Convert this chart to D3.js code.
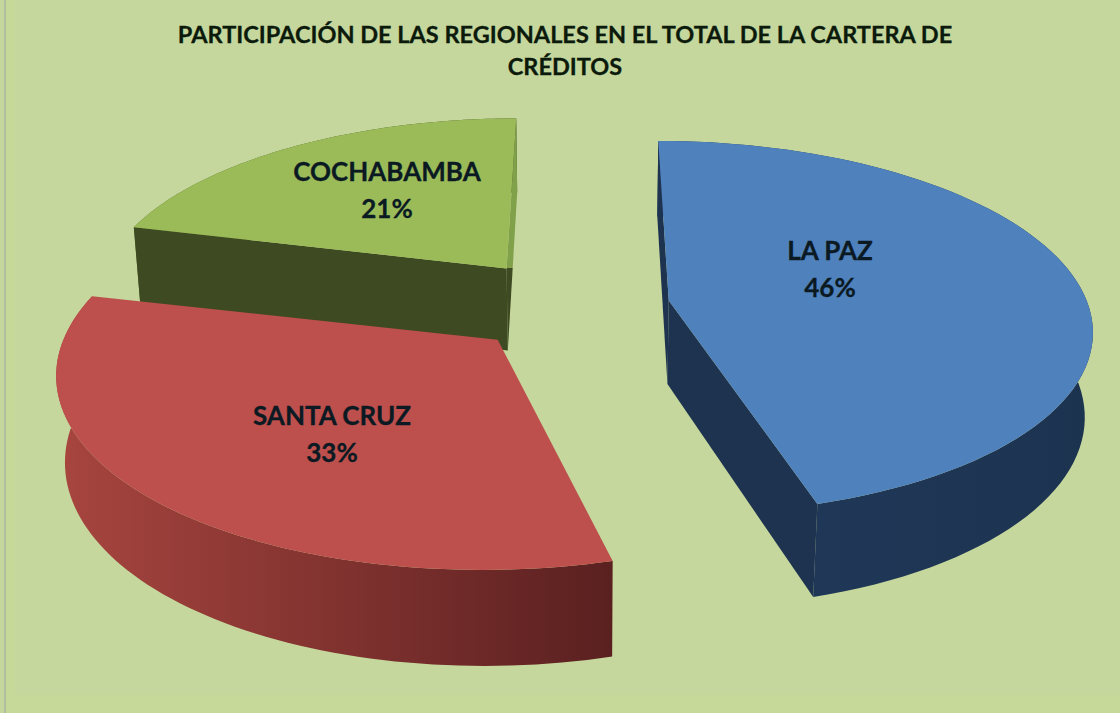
<!DOCTYPE html>
<html><head><meta charset="utf-8">
<script src="https://cdn.jsdelivr.net/npm/d3@7"></script>
<style>html,body{margin:0;padding:0;background:#c5d79c}svg{display:block}</style>
</head><body><svg id="c" width="1120" height="713"></svg>
<script>
const categories = ["LA PAZ","SANTA CRUZ","COCHABAMBA"];
const values = [45.5,33.2,21.3];
const explodeX = [0.198,-0.205,-0.195];
const explodeY = [0.025,-0.184,0.205];
const radiusScale = [1,1.008,0.985];
const startTweak = [0,0.024,0.02];
const topColors = ["#4f81bd","#bd4f4c","#9bbb59"];
const wallLeft = ["#223a5c","#a8453f","#5a6e30"];
const wallRight = ["#1c3350","#5a2020","#3c4a20"];
const radialColors = ["#1e3350","#6e2a28","#3d4a22"];
const backColors = ["#1e3350","#6e2a28","#80a04a"];
const titleLines = ["PARTICIPACIÓN DE LAS REGIONALES EN EL TOTAL DE LA CARTERA DE","CRÉDITOS"];
const labelAt = [[830,251],[332,416],[387,172]];

const W=1120,H=713;
const svg=d3.select("#c");
const cam={cx:586,cy:305,f:2600,D:6.2,e:26*Math.PI/180,h:0.226};
function proj(X,Y,Z){
  const w=cam.D+Y*Math.cos(cam.e)-Z*Math.sin(cam.e);
  return [cam.cx+cam.f*X/w, cam.cy-cam.f*(Y*Math.sin(cam.e)+Z*Math.cos(cam.e))/w];
}
svg.append("rect").attr("width",W).attr("height",H).attr("fill","#c5d79c");
svg.append("rect").attr("x",6).attr("y",0).attr("width",9).attr("height",H).attr("fill","#c7d998");
svg.append("rect").attr("x",6).attr("y",695).attr("width",W).attr("height",18).attr("fill","#c7d998");
svg.append("rect").attr("x",4).attr("y",0).attr("width",2).attr("height",H).attr("fill","#b3bda0");

const pie=d3.pie().sort(null).value(d=>d)(values);
const defs=svg.append("defs");
const line=d3.line();
const order=[2,0,1];
order.forEach(i=>{
  const p=pie[i];
  const ox=explodeX[i],oy=explodeY[i],r=radiusScale[i];
  const n=80;
  const s0=p.startAngle+startTweak[i];
  const arc=d3.range(n+1).map(k=>{
    const a=s0+(p.endAngle-s0)*k/n;
    return [ox+r*Math.sin(a),oy+r*Math.cos(a)];
  });
  const topP=arc.map(q=>proj(q[0],q[1],0));
  const botP=arc.map(q=>proj(q[0],q[1],-cam.h));
  const a0=proj(ox,oy,0),a1=proj(ox,oy,-cam.h);
  const g=svg.append("g");
  const gid="w"+i;
  const xs=topP.concat(botP).map(q=>q[0]);
  const gr=defs.append("linearGradient").attr("id",gid).attr("gradientUnits","userSpaceOnUse")
    .attr("x1",d3.min(xs)).attr("x2",d3.max(xs)).attr("y1",0).attr("y2",0);
  gr.append("stop").attr("offset",0).attr("stop-color",wallLeft[i]);
  gr.append("stop").attr("offset",1).attr("stop-color",wallRight[i]);
  // outer wall
  g.append("path").attr("d",line(topP.concat(botP.slice().reverse()))+"Z").attr("fill",`url(#${gid})`);
  // radial walls: keep only those that face the viewer
  const cross=(A,B,C)=>(B[0]-A[0])*(C[1]-B[1])-(B[1]-A[1])*(C[0]-B[0]);
  if(cross(a0,topP[0],botP[0])<0){
    g.append("path").attr("d",line([a0,topP[0],botP[0],a1])+"Z").attr("fill",radialColors[i]);
  }
  if(cross(a0,topP[n],botP[n])>0){
    const bid="b"+i;
    const bg=defs.append("linearGradient").attr("id",bid).attr("gradientUnits","userSpaceOnUse")
      .attr("x1",0).attr("x2",0).attr("y1",topP[n][1]).attr("y2",a1[1]);
    const off=(a0[1]-topP[n][1])/(a1[1]-topP[n][1]);
    const col=(a0[1]>topP[n][1])?backColors[i]:radialColors[i];
    bg.append("stop").attr("offset",0).attr("stop-color",col);
    bg.append("stop").attr("offset",Math.max(0,Math.min(1,off))).attr("stop-color",col);
    bg.append("stop").attr("offset",Math.max(0,Math.min(1,off))).attr("stop-color",radialColors[i]);
    bg.append("stop").attr("offset",1).attr("stop-color",radialColors[i]);
    g.append("path").attr("d",line([a0,topP[n],botP[n],a1])+"Z").attr("fill",`url(#${bid})`);
  }
  // top
  g.append("path").attr("d",line([a0].concat(topP))+"Z").attr("fill",topColors[i]);
});
const font="Lato, 'Open Sans', sans-serif";
titleLines.forEach((t,i)=>{
  svg.append("text").attr("x",565).attr("y",43+i*32).attr("text-anchor","middle")
   .attr("font-family",font).attr("font-weight",700).attr("font-size",23.5).attr("fill","#0c1a0c")
   .attr("stroke","#0c1a0c").attr("stroke-width",0.3).text(t);
});
categories.forEach((c,i)=>{
  const L=labelAt[i];
  const g=svg.append("text").attr("text-anchor","middle").attr("font-family",font).attr("font-weight",700).attr("font-size",26).attr("fill","#0b1a22")
   .attr("stroke","#0b1a22").attr("stroke-width",0.3);
  g.append("tspan").attr("x",L[0]).attr("y",L[1]+9).text(c);
  g.append("tspan").attr("x",L[0]).attr("y",L[1]+46).text(Math.round(values[i])+"%");
});
</script></body></html>
